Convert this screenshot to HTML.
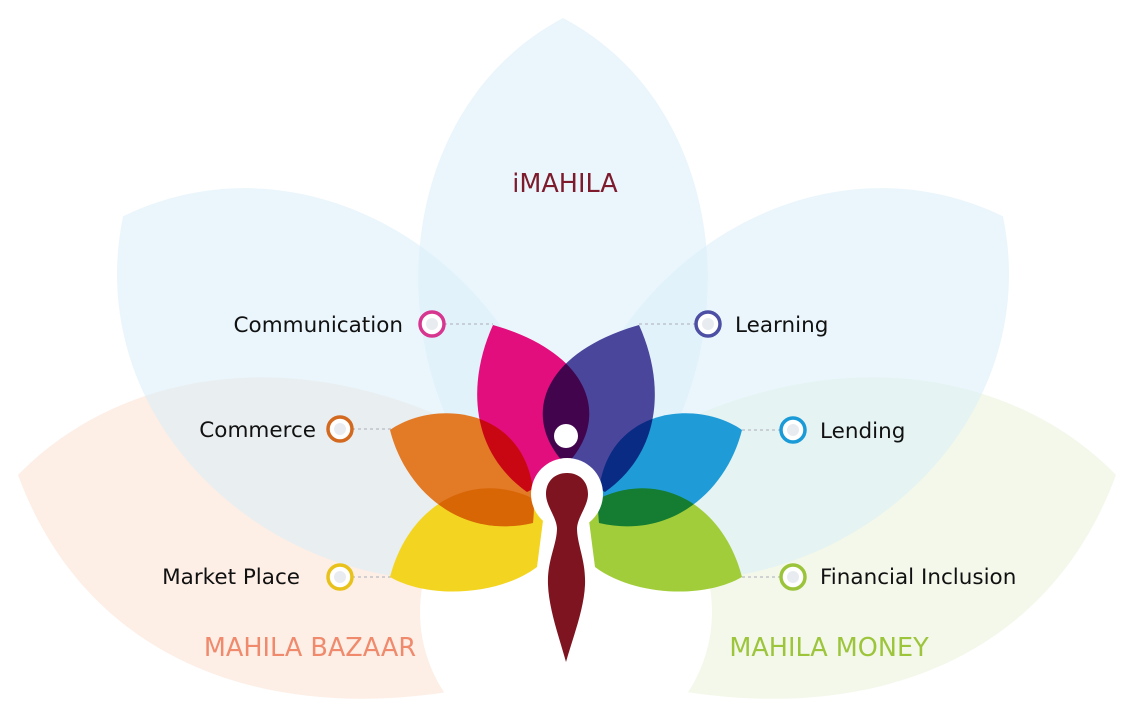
<!DOCTYPE html>
<html><head><meta charset="utf-8"><style>
html,body{margin:0;padding:0;background:#fff;}
svg{display:block}
text{font-family:"DejaVu Sans","Liberation Sans",sans-serif;}
</style></head><body>
<svg width="1134" height="722" viewBox="0 0 1134 722" xmlns="http://www.w3.org/2000/svg">
<defs>
<path id="big" d="M0,0 C-193,-130 -193,-440 0,-542 C193,-440 193,-130 0,0Z"/>
</defs>
<rect width="1134" height="722" fill="#fff"/>
<path d="M18,475 C110,380 280,335 470,430 L470,688 C280,725 90,670 18,475Z" fill="#fbe2d6" opacity="0.6"/>
<path d="M1116,475 C1024,380 854,335 664,430 L664,688 C854,725 1044,670 1116,475Z" fill="#ebf3dc" opacity="0.6"/>
<g transform="translate(563,560)">
<use href="#big" transform="rotate(-52) scale(1.105,1.03)" fill="#d9eff9" opacity="0.55"/>
<use href="#big" transform="rotate(52) scale(1.105,1.03)" fill="#d9eff9" opacity="0.55"/>
<use href="#big" fill="#d9eff9" opacity="0.55"/>
</g>
<circle cx="566" cy="612" r="146" fill="#fff"/>
<g stroke="#b8bcc4" stroke-width="1.3" stroke-dasharray="3,3">
<line x1="444" y1="324" x2="493" y2="324"/>
<line x1="639" y1="324" x2="696" y2="324"/>
<line x1="352" y1="429" x2="392" y2="429"/>
<line x1="742" y1="430" x2="781" y2="430"/>
<line x1="352" y1="577" x2="392" y2="577"/>
<line x1="742" y1="577" x2="781" y2="577"/>
</g>
<g style="isolation:isolate">
<path style="mix-blend-mode:multiply" fill="#f3d521" d="M390,577 C410,500 480,465 545,505 L537,567 C500,595 430,600 390,577Z"/>
<path style="mix-blend-mode:multiply" fill="#a2cd3a" d="M742,577 C722,500 652,465 587,505 L595,567 C632,595 702,600 742,577Z"/>
<path style="mix-blend-mode:multiply" fill="#e37a26" d="M390,430 C440,395 545,410 533,523 C460,540 405,490 390,430Z"/>
<path style="mix-blend-mode:multiply" fill="#1f9cd8" d="M742,430 C692,395 587,410 599,523 C672,540 727,490 742,430Z"/>
<path style="mix-blend-mode:multiply" fill="#e20e7d" d="M493,325 C468,380 468,450 527,492 C615,450 615,360 493,325Z"/>
<path style="mix-blend-mode:multiply" fill="#4a469c" d="M639,325 C664,380 664,450 605,492 C517,450 517,360 639,325Z"/>
</g>
<circle cx="566" cy="436" r="12" fill="#fff"/>
<circle cx="567" cy="494" r="36" fill="#fff"/>
<path d="M567,473 C580,473 588,482 588,494 C588,506 578,516 577,528 C577,545 586,560 585,585 C584,610 572,640 566,662 C560,640 549,610 548,585 C547,560 557,545 557,528 C556,516 546,506 546,494 C546,482 554,473 567,473Z" fill="#7e1420" stroke="#fff" stroke-width="13"/>
<path d="M567,473 C580,473 588,482 588,494 C588,506 578,516 577,528 C577,545 586,560 585,585 C584,610 572,640 566,662 C560,640 549,610 548,585 C547,560 557,545 557,528 C556,516 546,506 546,494 C546,482 554,473 567,473Z" fill="#7e1420"/>
<g fill="#fff" stroke-width="3.5">
<circle cx="432" cy="324" r="12" stroke="#d6368f"/>
<circle cx="708" cy="324" r="12" stroke="#4c4fa3"/>
<circle cx="340" cy="429" r="12" stroke="#d2691e"/>
<circle cx="793" cy="430" r="12" stroke="#1a9ad6"/>
<circle cx="340" cy="577" r="12" stroke="#e8c21a"/>
<circle cx="793" cy="577" r="12" stroke="#9bc43a"/>
</g>
<g fill="#e8ecf0">
<circle cx="432" cy="324" r="6"/><circle cx="708" cy="324" r="6"/><circle cx="340" cy="429" r="6"/>
<circle cx="793" cy="430" r="6"/><circle cx="340" cy="577" r="6"/><circle cx="793" cy="577" r="6"/>
</g>
<g font-size="21.5" fill="#111">
<text x="403" y="332" text-anchor="end">Communication</text>
<text x="316" y="437" text-anchor="end">Commerce</text>
<text x="300" y="584" text-anchor="end">Market Place</text>
<text x="735" y="332">Learning</text>
<text x="820" y="438">Lending</text>
<text x="820" y="584">Financial Inclusion</text>
</g>
<g font-size="25.5">
<text x="565" y="192" text-anchor="middle" fill="#7d1a2c">iMAHILA</text>
<text x="310" y="656" text-anchor="middle" fill="#f08a6c">MAHILA BAZAAR</text>
<text x="829" y="656" text-anchor="middle" fill="#9dc53c">MAHILA MONEY</text>
</g>
</svg>
</body></html>
